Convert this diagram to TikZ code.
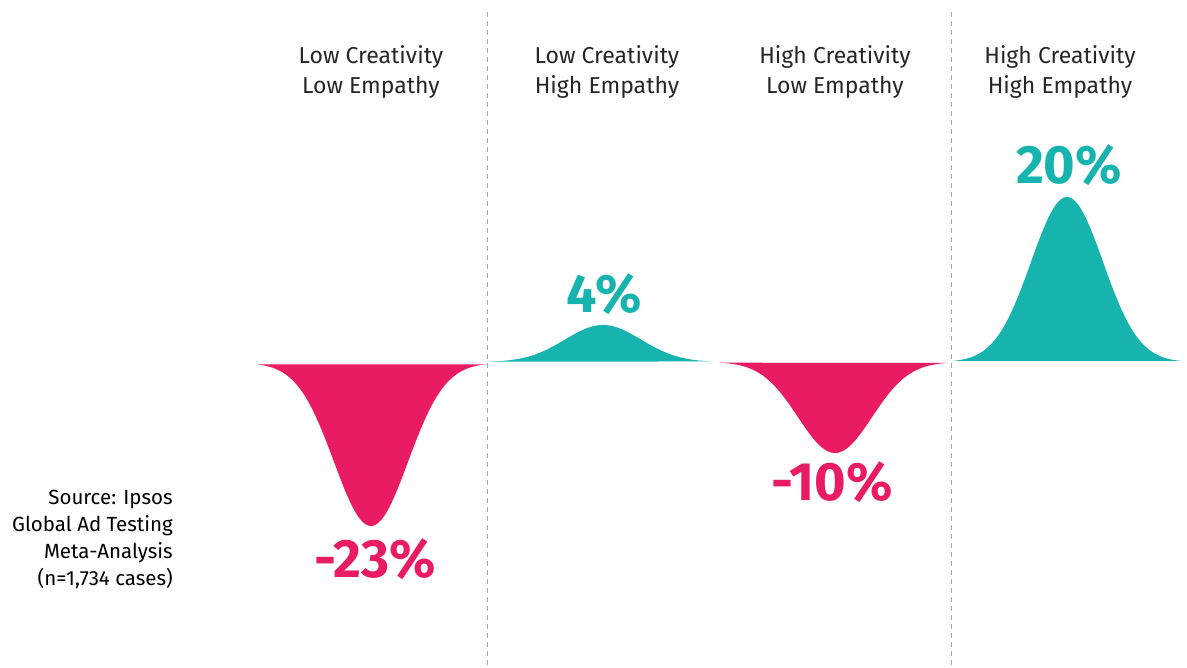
\documentclass[tikz,border=0pt]{standalone}
\usepackage{fontspec}
\setmainfont{Fira Sans}
\usetikzlibrary{positioning}
\definecolor{lossred}{HTML}{E91C63}
\definecolor{gainteal}{HTML}{17B4AF}
\definecolor{rulegray}{HTML}{A8A8A8}

\begin{document}
\begin{tikzpicture}[x=1pt ,y=-1pt ,
    head/.style ={align=center ,anchor=base ,inner sep=0pt ,text=black!85 ,
    font=\fontsize{23}{30}\selectfont},
    score/.style ={anchor=base ,inner sep=0pt ,font=\fontsize{54}{54}\selectfont\bfseries},
    divider/.style ={rulegray ,line width=1pt ,dash pattern=on 5pt off 4pt}]
    \useasboundingbox (0,0) rectangle (1187,668);
    % dividers
    \coordinate (d1top) at (487,12);
    \coordinate (d1bot) at (487,668);
    \coordinate (d2top) at (951,12);
    \coordinate (d2bot) at (951,668);
    \draw[divider] (d1top) -- (d1bot);
    \draw[divider] (d2top) -- (d2bot);
    % bells
    \fill[lossred] plot[domain=257:486 ,samples=90 ,smooth]
      (\x ,{363+163*exp(-((\x-371)^2)/(2*37^2))}) -- cycle;
    \fill[gainteal] plot[domain=490:714 ,samples=90 ,smooth]
      (\x ,{362-37*exp(-((\x-603)^2)/(2*38^2))}) -- cycle;
    \fill[lossred] plot[domain=720:948 ,samples=90 ,smooth]
      (\x ,{362+91*exp(-((\x-835)^2)/(2*37^2))}) -- cycle;
    \fill[gainteal] plot[domain=953:1182 ,samples=90 ,smooth]
      (\x ,{362-165*exp(-((\x-1067)^2)/(2*36^2))}) -- cycle;
    % headers (base = last line)
    \node[head] (lclE) at (371,94) {Low Creativity\\Low Empathy};
    \node[head] (lchE) at (607,94) {Low Creativity\\High Empathy};
    \node[head] (hclE) at (835,94) {High Creativity\\Low Empathy};
    \node[head] (hchE) at (1060,94) {High Creativity\\High Empathy};
    % scores
    \node[score ,text=lossred] (s1) at (375,577) {-23\%};
    \node[score ,text=gainteal] (s2) at (604,313) {4\%};
    \node[score ,text=lossred] (s3) at (832,500) {-10\%};
    \node[score ,text=gainteal] (s4) at (1069,184) {20\%};
    % source
    \node[align=right ,anchor=base east ,inner sep=0pt ,text=black ,
      font=\fontsize{20.5}{26.7}\selectfont] (src) at (173,585)
      {Source: Ipsos\\Global Ad Testing\\Meta-Analysis\\(n=1,734 cases)};
\end{tikzpicture}
\end{document}
